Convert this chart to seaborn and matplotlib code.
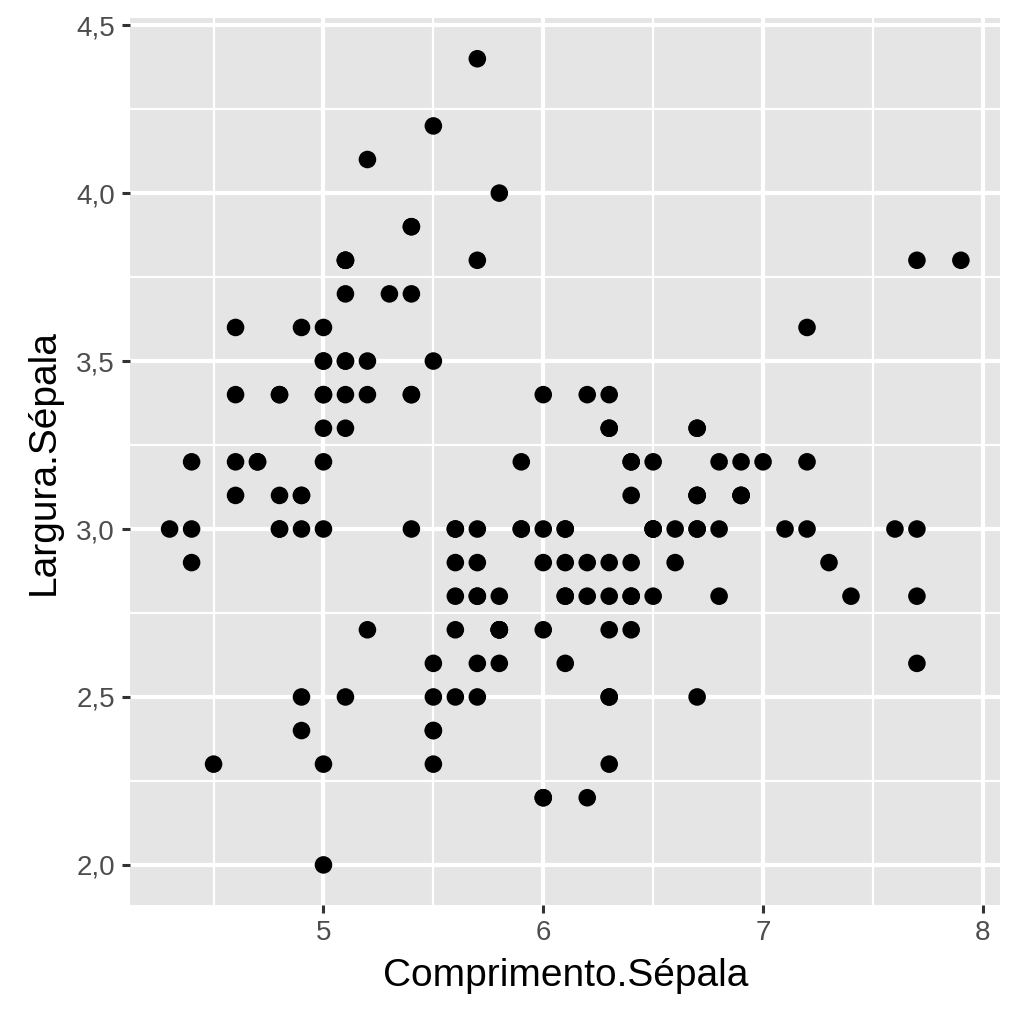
import matplotlib
matplotlib.use("Agg")
import matplotlib.pyplot as plt
import pandas as pd
import seaborn as sns
from matplotlib.ticker import FixedLocator

comprimento = [
    5.1, 4.9, 4.7, 4.6, 5.0, 5.4, 4.6, 5.0, 4.4, 4.9, 5.4, 4.8, 4.8, 4.3, 5.8, 5.7, 5.4, 5.1, 5.7, 5.1,
    5.4, 5.1, 4.6, 5.1, 4.8, 5.0, 5.0, 5.2, 5.2, 4.7, 4.8, 5.4, 5.2, 5.5, 4.9, 5.0, 5.5, 4.9, 4.4, 5.1,
    5.0, 4.5, 4.4, 5.0, 5.1, 4.8, 5.1, 4.6, 5.3, 5.0,
    7.0, 6.4, 6.9, 5.5, 6.5, 5.7, 6.3, 4.9, 6.6, 5.2, 5.0, 5.9, 6.0, 6.1, 5.6, 6.7, 5.6, 5.8, 6.2, 5.6,
    5.9, 6.1, 6.3, 6.1, 6.4, 6.6, 6.8, 6.7, 6.0, 5.7, 5.5, 5.5, 5.8, 6.0, 5.4, 6.0, 6.7, 6.3, 5.6, 5.5,
    5.5, 6.1, 5.8, 5.0, 5.6, 5.7, 5.7, 6.2, 5.1, 5.7,
    6.3, 5.8, 7.1, 6.3, 6.5, 7.6, 4.9, 7.3, 6.7, 7.2, 6.5, 6.4, 6.8, 5.7, 5.8, 6.4, 6.5, 7.7, 7.7, 6.0,
    6.9, 5.6, 7.7, 6.3, 6.7, 7.2, 6.2, 6.1, 6.4, 7.2, 7.4, 7.9, 6.4, 6.3, 6.1, 7.7, 6.3, 6.4, 6.0, 6.9,
    6.7, 6.9, 5.8, 6.8, 6.7, 6.7, 6.3, 6.5, 6.2, 5.9,
]
largura = [
    3.5, 3.0, 3.2, 3.1, 3.6, 3.9, 3.4, 3.4, 2.9, 3.1, 3.7, 3.4, 3.0, 3.0, 4.0, 4.4, 3.9, 3.5, 3.8, 3.8,
    3.4, 3.7, 3.6, 3.3, 3.4, 3.0, 3.4, 3.5, 3.4, 3.2, 3.1, 3.4, 4.1, 4.2, 3.1, 3.2, 3.5, 3.6, 3.0, 3.4,
    3.5, 2.3, 3.2, 3.5, 3.8, 3.0, 3.8, 3.2, 3.7, 3.3,
    3.2, 3.2, 3.1, 2.3, 2.8, 2.8, 3.3, 2.4, 2.9, 2.7, 2.0, 3.0, 2.2, 2.9, 2.9, 3.1, 3.0, 2.7, 2.2, 2.5,
    3.2, 2.8, 2.5, 2.8, 2.9, 3.0, 2.8, 3.0, 2.9, 2.6, 2.4, 2.4, 2.7, 2.7, 3.0, 3.4, 3.1, 2.3, 3.0, 2.5,
    2.6, 3.0, 2.6, 2.3, 2.7, 3.0, 2.9, 2.9, 2.5, 2.8,
    3.3, 2.7, 3.0, 2.9, 3.0, 3.0, 2.5, 2.9, 2.5, 3.6, 3.2, 2.7, 3.0, 2.5, 2.8, 3.2, 3.0, 3.8, 2.6, 2.2,
    3.2, 2.8, 2.8, 2.7, 3.3, 3.2, 2.8, 3.0, 2.8, 3.0, 2.8, 3.8, 2.8, 2.8, 2.6, 3.0, 3.4, 3.1, 3.0, 3.1,
    3.1, 3.1, 2.7, 3.2, 3.3, 3.0, 2.5, 3.0, 3.4, 3.0,
]

df = pd.DataFrame({"Comprimento.Sépala": comprimento, "Largura.Sépala": largura})

sns.set_theme(style="darkgrid")
plt.rcParams['font.family'] = ['Liberation Sans', 'DejaVu Sans']

fig = plt.figure(figsize=(10.24, 10.24), dpi=100)
ax = fig.add_axes([0.127, 0.116, 0.85, 0.866])
ax.set_facecolor("#E5E5E5")

sns.scatterplot(data=df, x="Comprimento.Sépala", y="Largura.Sépala", ax=ax,
                color="black", s=160, edgecolor="none", zorder=3)

ax.set_xlim(4.12, 8.08)
ax.set_ylim(1.88, 4.52)
ax.xaxis.set_major_locator(FixedLocator([5, 6, 7, 8]))
ax.xaxis.set_minor_locator(FixedLocator([4.5, 5.5, 6.5, 7.5]))
ax.yaxis.set_major_locator(FixedLocator([2.0, 2.5, 3.0, 3.5, 4.0, 4.5]))
ax.yaxis.set_minor_locator(FixedLocator([2.25, 2.75, 3.25, 3.75, 4.25]))
ax.set_yticklabels(["2,0", "2,5", "3,0", "3,5", "4,0", "4,5"])

ax.grid(which="major", color="white", linewidth=3)
ax.grid(which="minor", color="white", linewidth=1.6)
for sp in ax.spines.values():
    sp.set_visible(False)

ax.tick_params(which="major", bottom=True, left=True, length=6, width=2.2,
               color="#333333", labelsize=20, labelcolor="#4D4D4D", pad=5)
ax.tick_params(which="minor", bottom=False, left=False, length=0)
ax.set_xlabel("Comprimento.Sépala", fontsize=28, color="black", labelpad=8)
ax.set_ylabel("Largura.Sépala", fontsize=28, color="black", labelpad=10)

fig.savefig("out.png", dpi=100, facecolor="white")
